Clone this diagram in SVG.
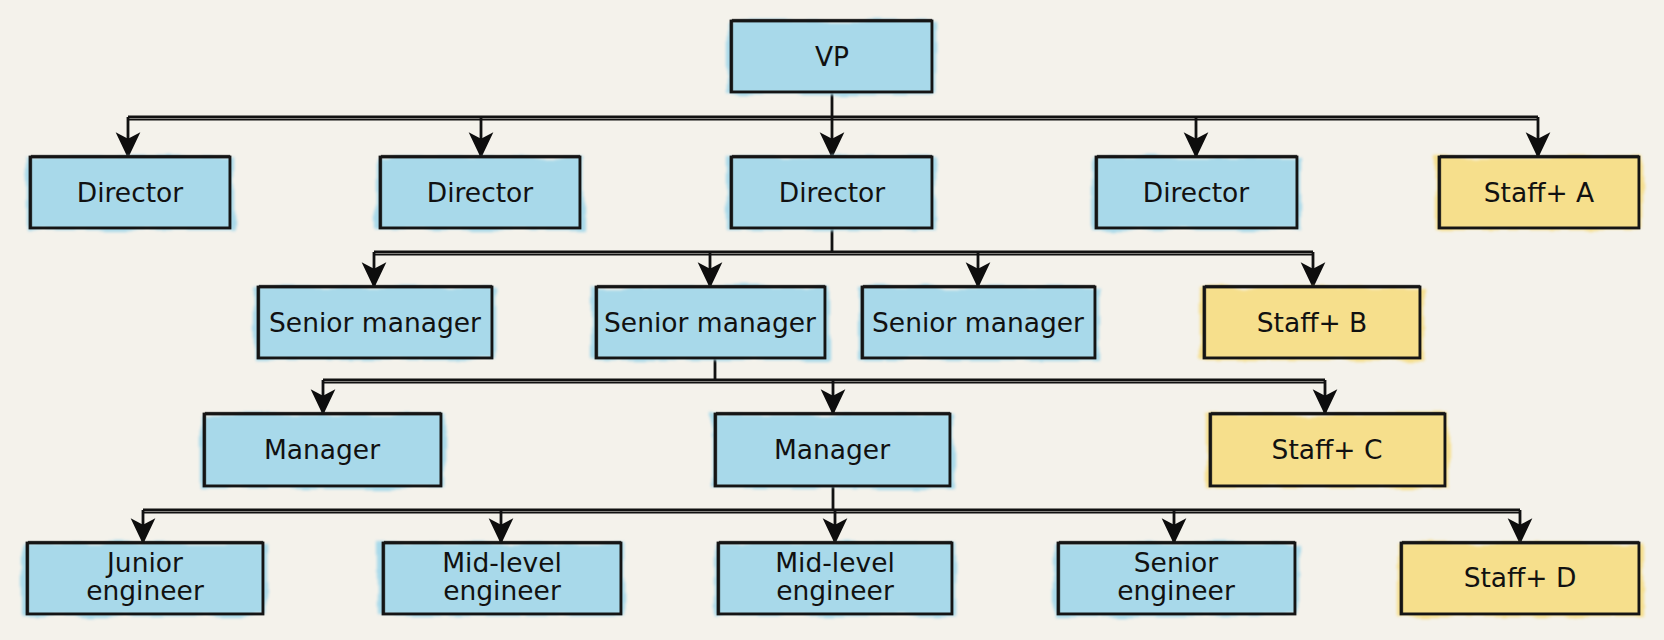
<svg xmlns="http://www.w3.org/2000/svg" width="1664" height="640" viewBox="0 0 1664 640">
<defs>
<style>
.bg{fill:#f4f2eb}
.wb{fill:#a8d9ea}
.wy{fill:#f6df8c}
.b1{fill:none;stroke:#151515;stroke-width:2.8}
.b2{fill:none;stroke:#151515;stroke-width:1.3;opacity:.85}
.t{font-family:"DejaVu Sans","Liberation Sans",sans-serif;font-size:26.5px;fill:#111;text-anchor:middle}
.c{fill:none;stroke:#111;stroke-width:2.8}
.c2{fill:none;stroke:#111;stroke-width:1.4}
</style>
<filter id="wash" x="-10%" y="-20%" width="120%" height="140%">
<feTurbulence type="fractalNoise" baseFrequency="0.03" numOctaves="2" seed="3"/>
<feDisplacementMap in="SourceGraphic" scale="10"/>
<feGaussianBlur stdDeviation="1.5"/>
</filter>
<marker id="ah" markerUnits="userSpaceOnUse" markerWidth="26" markerHeight="26" viewBox="0 0 20 20" refX="19" refY="10" orient="auto">
<path d="M0,0.5 L20,10 L0,19.5 L5,10 z" fill="#0d0d0d"/>
</marker>
</defs>
<rect class="bg" x="0" y="0" width="1664" height="640"/>

<g id="connectors">
<path class="c" d="M832,92 V117"/>
<path class="c" d="M128,117 H1538"/><path class="c2" d="M128,119.8 H1538"/>
<path class="c" d="M128,117 V157" marker-end="url(#ah)"/>
<path class="c" d="M481,117 V157" marker-end="url(#ah)"/>
<path class="c" d="M832,117 V157" marker-end="url(#ah)"/>
<path class="c" d="M1196,117 V157" marker-end="url(#ah)"/>
<path class="c" d="M1538,117 V157" marker-end="url(#ah)"/>

<path class="c" d="M832,228 V252"/>
<path class="c" d="M374,252 H1313"/><path class="c2" d="M374,254.8 H1313"/>
<path class="c" d="M374,252 V287" marker-end="url(#ah)"/>
<path class="c" d="M710,252 V287" marker-end="url(#ah)"/>
<path class="c" d="M978,252 V287" marker-end="url(#ah)"/>
<path class="c" d="M1313,252 V287" marker-end="url(#ah)"/>

<path class="c" d="M715,358 V380"/>
<path class="c" d="M323,380 H1325"/><path class="c2" d="M323,382.8 H1325"/>
<path class="c" d="M323,380 V414" marker-end="url(#ah)"/>
<path class="c" d="M833,380 V414" marker-end="url(#ah)"/>
<path class="c" d="M1325,380 V414" marker-end="url(#ah)"/>

<path class="c" d="M833,486 V510"/>
<path class="c" d="M143,510 H1520"/><path class="c2" d="M143,512.8 H1520"/>
<path class="c" d="M143,510 V543" marker-end="url(#ah)"/>
<path class="c" d="M501,510 V543" marker-end="url(#ah)"/>
<path class="c" d="M835,510 V543" marker-end="url(#ah)"/>
<path class="c" d="M1174,510 V543" marker-end="url(#ah)"/>
<path class="c" d="M1520,510 V543" marker-end="url(#ah)"/>
</g>

<g id="vp"><rect class="wb" filter="url(#wash)" x="727" y="21" width="209" height="73"/><rect class="b1" x="731" y="21" width="201" height="71"/><rect class="b2" x="732.5" y="19.5" width="199" height="72"/><text class="t" x="832" y="66">VP</text></g>

<g id="director1"><rect class="wb" filter="url(#wash)" x="26" y="157" width="208" height="73"/><rect class="b1" x="30" y="157" width="200" height="71"/><rect class="b2" x="31.5" y="155.5" width="198" height="72"/><text class="t" x="130" y="202">Director</text></g>
<g id="director2"><rect class="wb" filter="url(#wash)" x="376" y="157" width="208" height="73"/><rect class="b1" x="380" y="157" width="200" height="71"/><rect class="b2" x="381.5" y="155.5" width="198" height="72"/><text class="t" x="480" y="202">Director</text></g>
<g id="director3"><rect class="wb" filter="url(#wash)" x="727" y="157" width="209" height="73"/><rect class="b1" x="731" y="157" width="201" height="71"/><rect class="b2" x="732.5" y="155.5" width="199" height="72"/><text class="t" x="832" y="202">Director</text></g>
<g id="director4"><rect class="wb" filter="url(#wash)" x="1092" y="157" width="209" height="73"/><rect class="b1" x="1096" y="157" width="201" height="71"/><rect class="b2" x="1097.5" y="155.5" width="199" height="72"/><text class="t" x="1196" y="202">Director</text></g>
<g id="staffA"><rect class="wy" filter="url(#wash)" x="1435" y="157" width="208" height="73"/><rect class="b1" x="1439" y="157" width="200" height="71"/><rect class="b2" x="1440.5" y="155.5" width="198" height="72"/><text class="t" x="1539" y="202">Staff+ A</text></g>

<g id="srmgr1"><rect class="wb" filter="url(#wash)" x="254" y="287" width="242" height="73"/><rect class="b1" x="258" y="287" width="234" height="71"/><rect class="b2" x="259.5" y="285.5" width="232" height="72"/><text class="t" x="375" y="332">Senior manager</text></g>
<g id="srmgr2"><rect class="wb" filter="url(#wash)" x="592" y="287" width="237" height="73"/><rect class="b1" x="596" y="287" width="229" height="71"/><rect class="b2" x="597.5" y="285.5" width="227" height="72"/><text class="t" x="710" y="332">Senior manager</text></g>
<g id="srmgr3"><rect class="wb" filter="url(#wash)" x="858" y="287" width="241" height="73"/><rect class="b1" x="862" y="287" width="233" height="71"/><rect class="b2" x="863.5" y="285.5" width="231" height="72"/><text class="t" x="978" y="332">Senior manager</text></g>
<g id="staffB"><rect class="wy" filter="url(#wash)" x="1200" y="287" width="224" height="73"/><rect class="b1" x="1204" y="287" width="216" height="71"/><rect class="b2" x="1205.5" y="285.5" width="214" height="72"/><text class="t" x="1312" y="332">Staff+ B</text></g>

<g id="manager1"><rect class="wb" filter="url(#wash)" x="200" y="414" width="245" height="74"/><rect class="b1" x="204" y="414" width="237" height="72"/><rect class="b2" x="205.5" y="412.5" width="235" height="73"/><text class="t" x="322" y="459">Manager</text></g>
<g id="manager2"><rect class="wb" filter="url(#wash)" x="711" y="414" width="243" height="74"/><rect class="b1" x="715" y="414" width="235" height="72"/><rect class="b2" x="716.5" y="412.5" width="233" height="73"/><text class="t" x="832" y="459">Manager</text></g>
<g id="staffC"><rect class="wy" filter="url(#wash)" x="1206" y="414" width="243" height="74"/><rect class="b1" x="1210" y="414" width="235" height="72"/><rect class="b2" x="1211.5" y="412.5" width="233" height="73"/><text class="t" x="1327" y="459">Staff+ C</text></g>

<g id="junior"><rect class="wb" filter="url(#wash)" x="23" y="543" width="244" height="73"/><rect class="b1" x="27" y="543" width="236" height="71"/><rect class="b2" x="28.5" y="541.5" width="234" height="72"/><text class="t" x="145" y="572">Junior</text><text class="t" x="145" y="600">engineer</text></g>
<g id="midlevel1"><rect class="wb" filter="url(#wash)" x="379" y="543" width="246" height="73"/><rect class="b1" x="383" y="543" width="238" height="71"/><rect class="b2" x="384.5" y="541.5" width="236" height="72"/><text class="t" x="502" y="572">Mid-level</text><text class="t" x="502" y="600">engineer</text></g>
<g id="midlevel2"><rect class="wb" filter="url(#wash)" x="714" y="543" width="242" height="73"/><rect class="b1" x="718" y="543" width="234" height="71"/><rect class="b2" x="719.5" y="541.5" width="232" height="72"/><text class="t" x="835" y="572">Mid-level</text><text class="t" x="835" y="600">engineer</text></g>
<g id="senior"><rect class="wb" filter="url(#wash)" x="1054" y="543" width="245" height="73"/><rect class="b1" x="1058" y="543" width="237" height="71"/><rect class="b2" x="1059.5" y="541.5" width="235" height="72"/><text class="t" x="1176" y="572">Senior</text><text class="t" x="1176" y="600">engineer</text></g>
<g id="staffD"><rect class="wy" filter="url(#wash)" x="1397" y="543" width="246" height="73"/><rect class="b1" x="1401" y="543" width="238" height="71"/><rect class="b2" x="1402.5" y="541.5" width="236" height="72"/><text class="t" x="1520" y="587">Staff+ D</text></g>
</svg>
